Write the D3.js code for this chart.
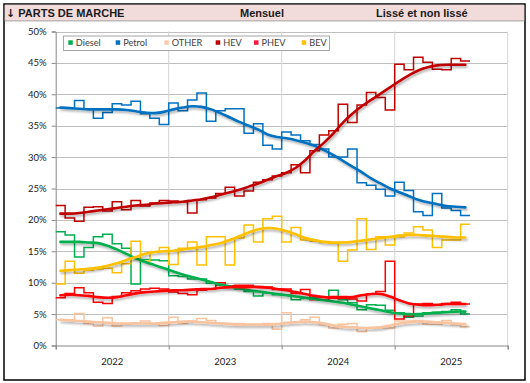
<!DOCTYPE html>
<html><head><meta charset="utf-8">
<script src="https://cdn.jsdelivr.net/npm/d3@7"></script>
<style>
html,body{margin:0;padding:0;background:#fff;}
svg{display:block;}
</style></head>
<body>
<svg id="chart" width="530" height="383"></svg>
<script>
// ---- Data (monthly market shares, %, Jan 2022 .. Aug 2025) ----
const years = ["2022", "2023", "2024", "2025"];
const yTicks = [0, 5, 10, 15, 20, 25, 30, 35, 40, 45, 50];
const seriesNames = ["Diesel", "Petrol", "OTHER", "HEV", "PHEV", "BEV"];
const seriesColors = ["#00B050", "#0070C0", "#F8C4A0", "#C00000", "#FF0000", "#FFC000"];
const legendColors = ["#00B050", "#0070C0", "#FBCBAE", "#C00000", "#FF1744", "#FFC000"];

const diesel = [18.1,17.6,14.1,15.6,17.3,17.7,16.2,15.5,9.8,13.7,13.6,13.5, 11.1,11.0,10.6,10.6,9.9,9.6,9.4,9.0,8.6,7.9,8.4,8.1, 8.0,7.3,7.5,7.7,7.7,8.8,7.3,6.8,5.7,6.5,6.4,5.6, 5.2,4.5,4.7,5.2,5.3,5.4,5.7,5.0];
const petrol = [37.8,37.8,39.0,37.7,36.2,37.1,38.5,38.3,38.9,36.9,36.2,35.2, 38.6,37.4,39.1,40.2,35.7,37.4,37.7,37.7,33.8,35.3,31.9,31.3, 34.0,33.5,32.6,32.0,31.3,30.0,30.0,31.3,25.9,25.5,24.9,23.8, 26.0,24.7,21.3,20.7,24.2,21.9,21.5,20.7];
const other = [4.1,4.1,5.1,3.5,3.1,4.4,3.1,3.4,3.6,3.9,3.4,3.2, 4.5,3.5,3.9,4.3,4.0,3.6,3.5,3.5,3.4,3.4,3.5,2.6, 5.2,3.8,4.1,4.5,3.3,2.8,3.4,3.5,2.2,2.8,2.8,2.8, 3.9,3.9,4.0,3.4,3.4,4.0,3.3,3.0];
const hev = [22.3,20.3,19.8,22.0,22.1,21.4,22.9,21.6,23.1,22.2,22.7,23.1, 23.0,22.9,21.1,23.2,23.5,24.2,25.2,23.8,24.6,26.0,26.4,27.0, 27.5,28.8,27.5,31.0,33.5,34.2,38.4,35.5,38.3,40.3,39.5,37.5, 44.8,43.9,45.9,45.1,44.0,43.9,45.7,45.3];
const phev = [7.6,8.3,9.2,8.4,6.9,6.7,7.8,8.4,8.7,9.0,9.1,9.0, 8.5,8.3,8.1,8.8,9.0,10.0,9.5,9.6,9.6,9.4,9.3,8.9, 9.0,8.3,8.9,7.3,7.2,7.8,7.8,7.4,7.1,8.2,8.6,13.4, 4.2,4.7,6.6,6.7,6.4,6.7,6.9,6.6];
const bev = [9.8,13.4,11.5,12.0,12.2,12.3,11.6,13.0,16.6,13.4,14.9,15.6, 12.9,15.5,16.5,12.8,17.3,17.3,12.8,17.1,19.2,16.5,20.2,20.6, 16.5,18.8,16.8,16.6,16.4,16.3,13.4,15.2,20.2,15.3,17.3,16.0, 17.3,17.9,18.9,18.4,15.6,16.8,16.8,19.3];

// Smoothed (lissé) series
const dieselS = [16.5,16.5,16.5,16.4,16.3,15.9,15.3,14.6,13.9,13.3,12.8,12.3, 11.8,11.3,10.9,10.5,10.1,9.7,9.4,9.1,8.8,8.6,8.4,8.2, 8.0,7.8,7.6,7.4,7.2,7.0,6.8,6.5,6.2,5.9,5.6,5.3, 5.1,5.0,5.0,5.1,5.2,5.3,5.4,5.4];
const petrolS = [37.9,37.8,37.7,37.6,37.6,37.6,37.6,37.5,37.3,37.1,37.0,37.2, 37.6,37.9,38.1,38.0,37.6,37.0,36.3,35.6,35.0,34.4,33.6,33.2, 33.0,32.7,32.3,31.8,31.1,30.3,29.4,28.5,27.6,26.6,25.8,25.0, 24.4,23.8,23.2,22.8,22.5,22.2,22.1,22.0];
const otherS = [4.1,4.0,3.9,3.8,3.7,3.6,3.5,3.5,3.5,3.5,3.5,3.6, 3.7,3.8,3.8,3.7,3.6,3.5,3.4,3.3,3.3,3.3,3.3,3.4, 3.6,3.7,3.8,3.7,3.5,3.2,3.0,2.9,2.8,2.8,2.9,3.2, 3.5,3.7,3.8,3.8,3.7,3.6,3.5,3.4];
const hevS = [21.0,21.0,21.1,21.3,21.5,21.7,21.9,22.1,22.3,22.4,22.6,22.7, 22.8,22.9,23.1,23.3,23.6,24.0,24.4,24.8,25.3,25.8,26.4,27.0, 27.5,28.3,29.5,31.0,32.3,33.8,35.5,36.9,38.1,39.1,40.1,41.1, 42.1,43.0,43.8,44.3,44.6,44.7,44.7,44.7];
const phevS = [8.0,8.1,8.0,7.9,7.7,7.6,7.7,8.0,8.3,8.5,8.6,8.7, 8.8,8.8,8.9,9.0,9.0,9.2,9.3,9.3,9.3,9.3,9.2,9.0, 8.8,8.5,8.2,7.9,7.7,7.6,7.6,7.7,8.0,8.2,8.2,7.8, 7.2,6.7,6.5,6.4,6.5,6.6,6.6,6.6];
const bevS = [11.9,12.0,12.1,12.2,12.4,12.7,13.1,13.6,14.1,14.6,14.9,15.0, 15.1,15.3,15.5,15.7,16.0,16.3,16.8,17.4,18.0,18.5,18.7,18.6, 18.2,17.7,17.1,16.8,16.5,16.4,16.4,16.5,16.7,16.9,17.1,17.3, 17.5,17.6,17.6,17.5,17.4,17.3,17.2,17.2];

const rawSeries = [diesel, petrol, other, hev, phev, bev];
const smoothSeries = [dieselS, petrolS, otherS, hevS, phevS, bevS];

// ---- Layout ----
const svg = d3.select("#chart");
const plot = {left: 55.7, right: 507.7, top: 31.5, bottom: 345.5};
const monthsPerYear = 12;

const x = d3.scaleLinear().domain([0, years.length * monthsPerYear]).range([plot.left, plot.right]);
const y = d3.scaleLinear().domain([0, 50]).range([plot.bottom, plot.top]);

const defs = svg.append("defs");
const f = defs.append("filter").attr("id", "sh").attr("x", "-10%").attr("y", "-20%").attr("width", "130%").attr("height", "160%");
f.append("feDropShadow").attr("dx", 1.2).attr("dy", 2).attr("stdDeviation", 1.3)
  .attr("flood-color", "#000").attr("flood-opacity", 0.3);

// Frame & header
svg.append("rect").attr("x", 4).attr("y", 4).attr("width", 521).attr("height", 376)
  .attr("fill", "#fff").attr("stroke", "#000").attr("stroke-width", 1.5);
svg.append("rect").attr("x", 4.75).attr("y", 4.75).attr("width", 519.5).attr("height", 16)
  .attr("fill", "#F2DCDB");
svg.append("line").attr("x1", 4.75).attr("x2", 524.25).attr("y1", 20.9).attr("y2", 20.9)
  .attr("stroke", "#8c8c8c").attr("stroke-width", 0.8);

const hdr = svg.append("g").attr("font-family", "'Liberation Sans', Arial, sans-serif")
  .attr("font-weight", "bold").attr("font-size", 11).attr("fill", "#1a1a1a");
const t1 = hdr.append("text").attr("x", 6).attr("y", 16.8);
t1.append("tspan").attr("font-family", "'DejaVu Sans', sans-serif").attr("font-size", 11).text("↓");
t1.append("tspan").text(" PARTS DE MARCHE");
hdr.append("text").attr("x", 262).attr("y", 16.8).attr("text-anchor", "middle").text("Mensuel");
hdr.append("text").attr("x", 376).attr("y", 16.8).text("Lissé et non lissé");

// Grid
const grid = svg.append("g");
grid.selectAll("line.h").data(yTicks.filter(d => d > 0)).join("line")
  .attr("x1", plot.left).attr("x2", plot.right)
  .attr("y1", d => Math.round(y(d)) + 0.5).attr("y2", d => Math.round(y(d)) + 0.5)
  .attr("stroke", "#BFBFBF").attr("stroke-width", 1);
grid.selectAll("line.v").data(d3.range(1, years.length + 1)).join("line")
  .attr("x1", d => x(d * monthsPerYear)).attr("x2", d => x(d * monthsPerYear))
  .attr("y1", plot.top).attr("y2", plot.bottom)
  .attr("stroke", "#D4D4D4").attr("stroke-width", 1);

// Axes
const yAxis = d3.axisLeft(y).tickValues(yTicks).tickSize(4).tickPadding(5).tickFormat(d => d + "%");
const gy = svg.append("g").attr("transform", `translate(${plot.left},0)`).call(yAxis);
const xAxis = d3.axisBottom(x).tickValues(d3.range(0, years.length + 1).map(d => d * monthsPerYear)).tickSize(4).tickFormat("");
const gx = svg.append("g").attr("transform", `translate(0,${plot.bottom})`).call(xAxis);
[gy, gx].forEach(g => {
  g.select(".domain").attr("stroke", "#868686");
  g.selectAll(".tick line").attr("stroke", "#868686");
  g.selectAll("text").attr("font-family", "Lato, 'Open Sans', sans-serif").attr("font-size", 9.5).attr("fill", "#1a1a1a");
});
svg.append("g").selectAll("text").data(years).join("text")
  .attr("x", (d, i) => x(i * monthsPerYear + monthsPerYear / 2))
  .attr("y", 364.5).attr("text-anchor", "middle")
  .attr("font-family", "Lato, 'Open Sans', sans-serif").attr("font-size", 9.5).attr("fill", "#1a1a1a")
  .text(d => d);

// Step (non lissé) lines
const stepLine = d3.line().x(d => x(d[0])).y(d => y(d[1])).curve(d3.curveStepAfter);
const stepsG = svg.append("g");
rawSeries.forEach((s, k) => {
  const pts = s.map((v, i) => [i, v]);
  pts.push([s.length, s[s.length - 1]]);
  stepsG.append("path").attr("d", stepLine(pts)).attr("fill", "none")
    .attr("stroke", seriesColors[k]).attr("stroke-width", 1.5);
});

// Smoothed (lissé) lines
const smoothLine = d3.line().x(d => x(d[0] + 0.5)).y(d => y(d[1])).curve(d3.curveCatmullRom.alpha(0.5));
const smoothG = svg.append("g");
smoothSeries.forEach((s, k) => {
  smoothG.append("path").attr("d", smoothLine(s.map((v, i) => [i, v]))).attr("fill", "none")
    .attr("stroke", seriesColors[k]).attr("stroke-width", 2.6).attr("stroke-linecap", "round")
    .attr("filter", "url(#sh)");
});

// Legend
const leg = svg.append("g");
leg.append("rect").attr("x", 63.5).attr("y", 36).attr("width", 266).attr("height", 14.5)
  .attr("fill", "#fff").attr("stroke", "#A6A6A6").attr("stroke-width", 1);
const legX = [68.3, 115.7, 164.3, 215.7, 254, 301.7];
const items = leg.selectAll("g.it").data(seriesNames).join("g")
  .attr("transform", (d, i) => `translate(${legX[i]},0)`);
items.append("rect").attr("x", 0).attr("y", 40.3).attr("width", 4.5).attr("height", 4.5)
  .attr("fill", (d, i) => legendColors[i]);
items.append("text").attr("x", 7.5).attr("y", 46.2)
  .attr("font-family", "Lato, 'Open Sans', sans-serif").attr("font-size", 9.2).attr("fill", "#404040")
  .text(d => d);
</script>
</body></html>
